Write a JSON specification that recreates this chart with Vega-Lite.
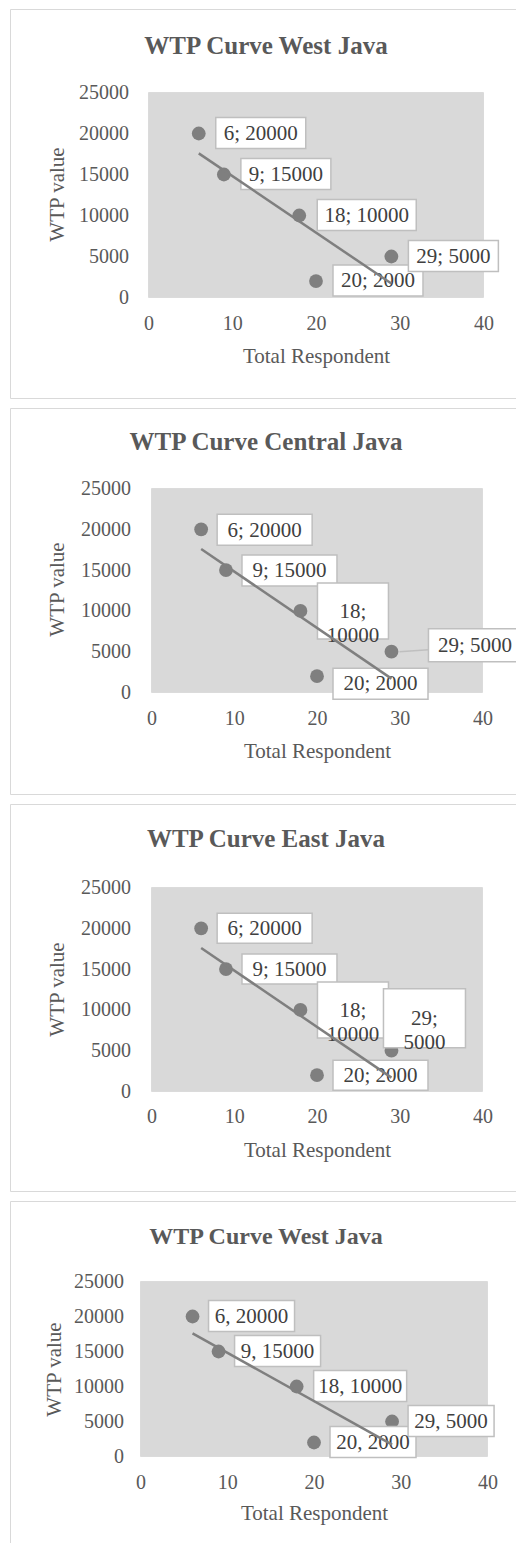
{
  "$schema": "https://vega.github.io/schema/vega-lite/v6.json",
  "background": "white",
  "padding": {"left": 9, "top": 8, "right": 0, "bottom": 0},
  "spacing": 8,
  "config": {
    "view": {"stroke": "#d9d9d9", "strokeWidth": 1},
    "axis": {"domain": false, "ticks": false, "tickSize": 0, "grid": false, "labelFont": "Liberation Serif", "labelFontSize": 20, "labelColor": "#595959", "labelOverlap": false, "labelFlush": false, "labelBound": false, "titleFont": "Liberation Serif", "titleFontSize": 21, "titleFontWeight": "normal", "titleColor": "#595959"},
    "axisX": {"titleBaseline": "top", "titleAlign": "center", "titleAngle": 0},
    "axisY": {"titleBaseline": "middle", "titleAlign": "center", "titleAngle": -90},
    "title": {"font": "Liberation Serif", "fontSize": 25, "fontWeight": "bold", "color": "#595959", "anchor": "middle", "baseline": "alphabetic"},
    "text": {"font": "Liberation Serif", "fontSize": 21, "fill": "#404040", "align": "center", "baseline": "middle", "lineBreak": "\n", "lineHeight": 24},
    "rect": {"fill": "#ffffff", "stroke": "#bfbfbf", "strokeWidth": 1.5}
  },
  "datasets": {
    "p1": [
      {"x": 6, "y": 20000, "label": "6; 20000"},
      {"x": 9, "y": 15000, "label": "9; 15000"},
      {"x": 18, "y": 10000, "label": "18; 10000"},
      {"x": 20, "y": 2000, "label": "20; 2000"},
      {"x": 29, "y": 5000, "label": "29; 5000"}
    ],
    "p2": [
      {"x": 6, "y": 20000, "label": "6; 20000"},
      {"x": 9, "y": 15000, "label": "9; 15000"},
      {"x": 18, "y": 10000, "label": "18;\n10000"},
      {"x": 20, "y": 2000, "label": "20; 2000"},
      {"x": 29, "y": 5000, "label": "29; 5000"}
    ],
    "p3": [
      {"x": 6, "y": 20000, "label": "6; 20000"},
      {"x": 9, "y": 15000, "label": "9; 15000"},
      {"x": 18, "y": 10000, "label": "18;\n10000"},
      {"x": 20, "y": 2000, "label": "20; 2000"},
      {"x": 29, "y": 5000, "label": "29;\n5000"}
    ],
    "p4": [
      {"x": 6, "y": 20000, "label": "6, 20000"},
      {"x": 9, "y": 15000, "label": "9, 15000"},
      {"x": 18, "y": 10000, "label": "18, 10000"},
      {"x": 20, "y": 2000, "label": "20, 2000"},
      {"x": 29, "y": 5000, "label": "29, 5000"}
    ]
  },
  "vconcat": [
    {
      "width": 506, "height": 389,
      "title": {"text": "WTP Curve West Java", "offset": -49.5, "dx": 3},
      "data": {"name": "p1"},
      "encoding": {
        "x": {"field": "x", "type": "quantitative", "title": "Total Respondent", "scale": {"domain": [-16.537, 43.881], "nice": false, "zero": false}, "axis": {"values": [0, 10, 20, 30, 40], "format": "d", "offset": -100.5, "labelPadding": 16, "titleX": 306, "titleY": 48}},
        "y": {"field": "y", "type": "quantitative", "title": "WTP value", "scale": {"domain": [-12256, 35183], "nice": false, "zero": false}, "axis": {"values": [0, 5000, 10000, 15000, 20000, 25000], "format": "d", "offset": -138.5, "labelPadding": 20, "titleX": -91, "titleY": 185}}
      },
      "layer": [
        {"mark": {"type": "rect", "fill": "#d9d9d9", "stroke": null}, "encoding": {"x": {"datum": 0, "type": "quantitative", "title": "Total Respondent"}, "x2": {"datum": 40}, "y": {"datum": 0, "type": "quantitative", "title": "WTP value"}, "y2": {"datum": 25000}}},
        {"mark": {"type": "circle", "size": 190, "color": "#7f7f7f", "opacity": 1}},
        {"transform": [{"filter": "datum.x != 18"}], "layer": [
          {"mark": {"type": "rect", "xOffset": 17, "x2Offset": 107, "yOffset": -16, "y2Offset": 15}, "encoding": {"x2": {"field": "x"}, "y2": {"field": "y"}}},
          {"mark": {"type": "text", "dx": 62, "dy": 0.3}, "encoding": {"text": {"field": "label"}}}
        ]},
        {"transform": [{"filter": "datum.x == 18"}], "layer": [
          {"mark": {"type": "rect", "xOffset": 18, "x2Offset": 117, "yOffset": -16, "y2Offset": 15}, "encoding": {"x2": {"field": "x"}, "y2": {"field": "y"}}},
          {"mark": {"type": "text", "dx": 67.5, "dy": 0.3}, "encoding": {"text": {"field": "label"}}}
        ]},
        {"transform": [{"regression": "y", "on": "x"}], "mark": {"type": "line", "stroke": "#7f7f7f", "strokeWidth": 2.5}}
      ]
    },
    {
      "width": 506, "height": 386,
      "title": {"text": "WTP Curve Central Java", "offset": -46.5, "dx": 3},
      "data": {"name": "p2"},
      "encoding": {
        "x": {"field": "x", "type": "quantitative", "title": "Total Respondent", "scale": {"domain": [-17.1, 44.048], "nice": false, "zero": false}, "axis": {"values": [0, 10, 20, 30, 40], "format": "d", "offset": -101.5, "labelPadding": 16, "titleX": 307, "titleY": 47.5}},
        "y": {"field": "y", "type": "quantitative", "title": "WTP value", "scale": {"domain": [-12439, 34865], "nice": false, "zero": false}, "axis": {"values": [0, 5000, 10000, 15000, 20000, 25000], "format": "d", "offset": -141.5, "labelPadding": 21, "titleX": -94, "titleY": 181}}
      },
      "layer": [
        {"mark": {"type": "rect", "fill": "#d9d9d9", "stroke": null}, "encoding": {"x": {"datum": 0, "type": "quantitative", "title": "Total Respondent"}, "x2": {"datum": 40}, "y": {"datum": 0, "type": "quantitative", "title": "WTP value"}, "y2": {"datum": 25000}}},
        {"mark": {"type": "circle", "size": 190, "color": "#7f7f7f", "opacity": 1}},
        {"transform": [{"filter": "datum.x == 29"}], "mark": {"type": "rule", "stroke": "#bfbfbf", "strokeWidth": 1.5, "xOffset": 8, "x2Offset": 37, "yOffset": 0, "y2Offset": -2}, "encoding": {"x2": {"field": "x"}, "y2": {"field": "y"}}},
        {"transform": [{"filter": "datum.x == 6 || datum.x == 9"}], "layer": [
          {"mark": {"type": "rect", "xOffset": 16, "x2Offset": 111, "yOffset": -15, "y2Offset": 16}, "encoding": {"x2": {"field": "x"}, "y2": {"field": "y"}}},
          {"mark": {"type": "text", "dx": 63.5, "dy": 1.3}, "encoding": {"text": {"field": "label"}}}
        ]},
        {"transform": [{"filter": "datum.x == 20"}], "layer": [
          {"mark": {"type": "rect", "xOffset": 16, "x2Offset": 111, "yOffset": -8, "y2Offset": 23}, "encoding": {"x2": {"field": "x"}, "y2": {"field": "y"}}},
          {"mark": {"type": "text", "dx": 63.5, "dy": 8.3}, "encoding": {"text": {"field": "label"}}}
        ]},
        {"transform": [{"filter": "datum.x == 18"}], "layer": [
          {"mark": {"type": "rect", "xOffset": 17, "x2Offset": 88, "yOffset": -28, "y2Offset": 28}, "encoding": {"x2": {"field": "x"}, "y2": {"field": "y"}}},
          {"mark": {"type": "text", "dx": 52.5, "dy": 0.8}, "encoding": {"text": {"field": "label"}}}
        ]},
        {"transform": [{"filter": "datum.x == 29"}], "layer": [
          {"mark": {"type": "rect", "clip": true, "xOffset": 37, "x2Offset": 130, "yOffset": -23, "y2Offset": 10}, "encoding": {"x2": {"field": "x"}, "y2": {"field": "y"}}},
          {"mark": {"type": "text", "clip": true, "dx": 83.5, "dy": -5.7}, "encoding": {"text": {"field": "label"}}}
        ]},
        {"transform": [{"regression": "y", "on": "x"}], "mark": {"type": "line", "stroke": "#7f7f7f", "strokeWidth": 2.5}}
      ]
    },
    {
      "width": 506, "height": 387,
      "title": {"text": "WTP Curve East Java", "offset": -48, "dx": 3},
      "data": {"name": "p3"},
      "encoding": {
        "x": {"field": "x", "type": "quantitative", "title": "Total Respondent", "scale": {"domain": [-17.1, 44.048], "nice": false, "zero": false}, "axis": {"values": [0, 10, 20, 30, 40], "format": "d", "offset": -99.5, "labelPadding": 15, "titleX": 307, "titleY": 48}},
        "y": {"field": "y", "type": "quantitative", "title": "WTP value", "scale": {"domain": [-12194, 35233], "nice": false, "zero": false}, "axis": {"values": [0, 5000, 10000, 15000, 20000, 25000], "format": "d", "offset": -141.5, "labelPadding": 21, "titleX": -94, "titleY": 185}}
      },
      "layer": [
        {"mark": {"type": "rect", "fill": "#d9d9d9", "stroke": null}, "encoding": {"x": {"datum": 0, "type": "quantitative", "title": "Total Respondent"}, "x2": {"datum": 40}, "y": {"datum": 0, "type": "quantitative", "title": "WTP value"}, "y2": {"datum": 25000}}},
        {"mark": {"type": "circle", "size": 190, "color": "#7f7f7f", "opacity": 1}},
        {"transform": [{"filter": "datum.x == 6 || datum.x == 9 || datum.x == 20"}], "layer": [
          {"mark": {"type": "rect", "xOffset": 16, "x2Offset": 111, "yOffset": -15, "y2Offset": 15}, "encoding": {"x2": {"field": "x"}, "y2": {"field": "y"}}},
          {"mark": {"type": "text", "dx": 63.5, "dy": 0.8}, "encoding": {"text": {"field": "label"}}}
        ]},
        {"transform": [{"filter": "datum.x == 18"}], "layer": [
          {"mark": {"type": "rect", "xOffset": 17, "x2Offset": 88, "yOffset": -28, "y2Offset": 28}, "encoding": {"x2": {"field": "x"}, "y2": {"field": "y"}}},
          {"mark": {"type": "text", "dx": 52.5, "dy": 0.8}, "encoding": {"text": {"field": "label"}}}
        ]},
        {"transform": [{"filter": "datum.x == 29"}], "layer": [
          {"mark": {"type": "rect", "xOffset": 74, "x2Offset": -8, "yOffset": -62, "y2Offset": -3}, "encoding": {"x2": {"field": "x"}, "y2": {"field": "y"}}},
          {"mark": {"type": "text", "dx": 33, "dy": -31.7}, "encoding": {"text": {"field": "label"}}}
        ]},
        {"transform": [{"regression": "y", "on": "x"}], "mark": {"type": "line", "stroke": "#7f7f7f", "strokeWidth": 2.5}}
      ]
    },
    {
      "width": 506, "height": 345,
      "title": {"text": "WTP Curve West Java", "offset": -47.5, "dx": 3, "fontSize": 24},
      "data": {"name": "p4"},
      "encoding": {
        "x": {"field": "x", "type": "quantitative", "title": "Total Respondent", "scale": {"domain": [-15.043, 43.285], "nice": false, "zero": false}, "axis": {"values": [0, 10, 20, 30, 40], "format": "d", "offset": -89.5, "labelPadding": 16, "titleX": 304, "titleY": 45.5}},
        "y": {"field": "y", "type": "quantitative", "title": "WTP value", "scale": {"domain": [-12786, 36500], "nice": false, "zero": false}, "axis": {"values": [0, 5000, 10000, 15000, 20000, 25000], "format": "d", "offset": -130.5, "labelPadding": 17, "titleX": -86.5, "titleY": 168}}
      },
      "layer": [
        {"mark": {"type": "rect", "fill": "#d9d9d9", "stroke": null}, "encoding": {"x": {"datum": 0, "type": "quantitative", "title": "Total Respondent"}, "x2": {"datum": 40}, "y": {"datum": 0, "type": "quantitative", "title": "WTP value"}, "y2": {"datum": 25000}}},
        {"mark": {"type": "circle", "size": 190, "color": "#7f7f7f", "opacity": 1}},
        {"transform": [{"filter": "datum.x != 18"}], "layer": [
          {"mark": {"type": "rect", "xOffset": 16, "x2Offset": 102, "yOffset": -16, "y2Offset": 15}, "encoding": {"x2": {"field": "x"}, "y2": {"field": "y"}}},
          {"mark": {"type": "text", "dx": 59, "dy": 0.3}, "encoding": {"text": {"field": "label"}}}
        ]},
        {"transform": [{"filter": "datum.x == 18"}], "layer": [
          {"mark": {"type": "rect", "xOffset": 17, "x2Offset": 110, "yOffset": -16, "y2Offset": 15}, "encoding": {"x2": {"field": "x"}, "y2": {"field": "y"}}},
          {"mark": {"type": "text", "dx": 63.5, "dy": 0.3}, "encoding": {"text": {"field": "label"}}}
        ]},
        {"transform": [{"regression": "y", "on": "x"}], "mark": {"type": "line", "stroke": "#7f7f7f", "strokeWidth": 2.5}}
      ]
    }
  ]
}
